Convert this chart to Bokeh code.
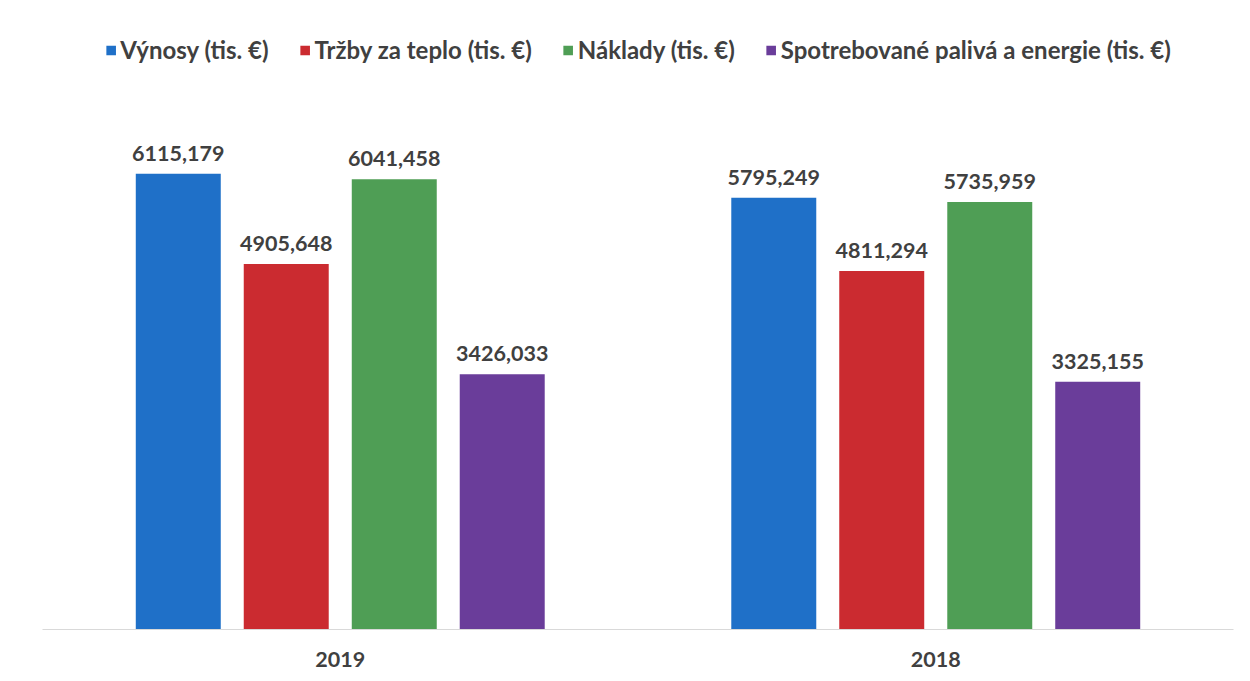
from bokeh.plotting import figure
from bokeh.models import ColumnDataSource, FactorRange, LabelSet, Legend, LegendItem
from bokeh.transform import dodge
from bokeh.core.properties import value
from bokeh.embed import file_html
from bokeh.resources import INLINE

years = ["2019", "2018"]
series_names = ["Výnosy (tis. €)", "Tržby za teplo (tis. €)", "Náklady (tis. €)",
                "Spotrebované palivá a energie (tis. €)"]
vynosy = [6115.179, 5795.249]
trzby = [4905.648, 4811.294]
naklady = [6041.458, 5735.959]
palivo = [3426.033, 3325.155]
colors = ["#1F70C8", "#CB2B30", "#4F9E55", "#6A3D9A"]

FONT = "Lato"
TXT = "#404040"

p = figure(x_range=FactorRange(*years), y_range=(0, 8200), width=1242, height=673,
           output_backend="svg", toolbar_location=None,
           min_border_left=42, min_border_right=9, min_border_top=18, min_border_bottom=44)

offsets = [-0.272, -0.0907, 0.0907, 0.272]
bw = 0.1427
items = []
for name, vals, col, off in zip(series_names, [vynosy, trzby, naklady, palivo], colors, offsets):
    src = ColumnDataSource(dict(x=years, top=vals,
                                lab=[f"{v:.3f}".replace(".", ",") for v in vals]))
    r = p.vbar(x=dodge("x", off, range=p.x_range), top="top", width=bw, source=src,
               fill_color=col, line_color=None)
    items.append(LegendItem(label=name, renderers=[r]))
    p.add_layout(LabelSet(x=dodge("x", off, range=p.x_range), y="top", text="lab", source=src,
                          text_align="center", text_baseline="alphabetic", y_offset=13,
                          text_font=value(FONT), text_font_style="bold",
                          text_font_size="21.5px", text_color=TXT))

legend = Legend(items=items, orientation="horizontal", location="top_center",
                spacing=30, glyph_width=12, glyph_height=12, label_standoff=4,
                label_text_font=FONT, label_text_font_size="24px", label_text_color=TXT,
                label_text_font_style="bold",
                padding=0, margin=17, border_line_color=None, background_fill_alpha=0)
p.add_layout(legend)

p.yaxis.visible = False
p.xgrid.grid_line_color = None
p.ygrid.grid_line_color = None
p.outline_line_color = None
p.xaxis.axis_line_color = "#D9D9D9"
p.xaxis.major_tick_line_color = None
p.xaxis.minor_tick_line_color = None
p.xaxis.major_label_standoff = 16
p.xaxis.major_label_text_font = FONT
p.xaxis.major_label_text_font_size = "21.5px"
p.xaxis.major_label_text_font_style = "bold"
p.xaxis.major_label_text_color = TXT
p.x_range.range_padding = 0

open("out.html", "w").write(file_html(p, INLINE))
